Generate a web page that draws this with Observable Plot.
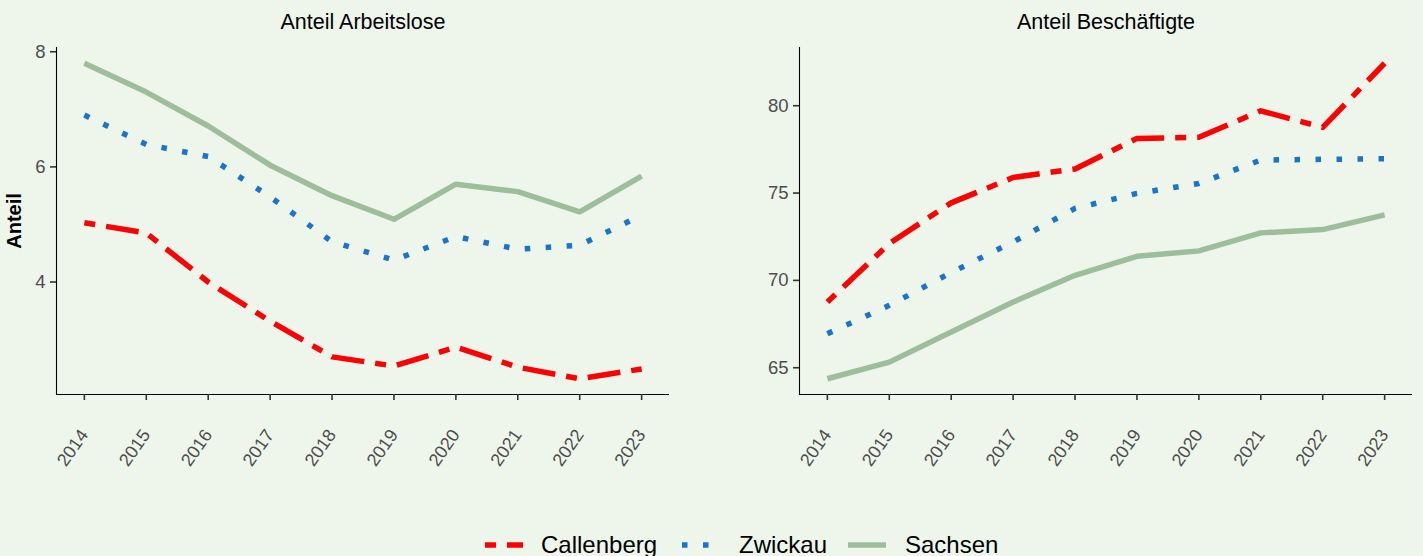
<!DOCTYPE html>
<html><head><meta charset="utf-8">
<script src="https://cdn.jsdelivr.net/npm/d3@7"></script>
<script src="https://cdn.jsdelivr.net/npm/@observablehq/plot@0.6"></script>
<style>
html,body{margin:0;padding:0;background:#EEF6EC;width:1423px;height:556px;overflow:hidden;font-family:"Liberation Sans",Arial,sans-serif;}
#wrap{position:relative;width:1423px;height:556px;}
.panel{position:absolute;top:0;}
.lkey{position:absolute;top:535px;}
.ltxt{position:absolute;top:533px;font-size:24px;line-height:24px;color:#000;white-space:nowrap;}
</style></head><body><div id="wrap"></div>
<script>
const years = [2014, 2015, 2016, 2017, 2018, 2019, 2020, 2021, 2022, 2023];
const seriesNames = ["Callenberg", "Zwickau", "Sachsen"];
const panelTitles = ["Anteil Arbeitslose", "Anteil Beschäftigte"];
const yAxisTitle = "Anteil";

// Anteil Arbeitslose
const aloCallenberg = [5.03, 4.85, 4.00, 3.32, 2.70, 2.54, 2.87, 2.52, 2.32, 2.49];
const aloZwickau    = [6.90, 6.39, 6.18, 5.48, 4.70, 4.38, 4.79, 4.57, 4.64, 5.16];
const aloSachsen    = [7.80, 7.30, 6.71, 6.03, 5.50, 5.09, 5.70, 5.57, 5.22, 5.84];
// Anteil Beschäftigte
const besCallenberg = [68.76, 72.11, 74.44, 75.89, 76.38, 78.13, 78.19, 79.71, 78.76, 82.43];
const besZwickau    = [66.95, 68.57, 70.45, 72.20, 74.12, 74.98, 75.55, 76.89, 76.93, 76.96];
const besSachsen    = [64.37, 65.32, 67.04, 68.76, 70.29, 71.38, 71.69, 72.72, 72.91, 73.75];

const yTicksAlo = [4, 6, 8];
const yTicksBes = [65, 70, 75, 80];

const styles = {
  Callenberg: {stroke: "#FF0000", strokeDasharray: "11,11,33,11"},
  Zwickau:    {stroke: "#1874CD", strokeDasharray: "5.5,15.5"},
  Sachsen:    {stroke: "#9CBE9A", strokeDasharray: null}
};
const LW = 5.5;
const FONT = '"Liberation Sans", Arial, sans-serif';

function makePanel({title, values, yticks, width, marginLeft, marginRight, ylabel}) {
  const all = values.flat();
  const [lo, hi] = d3.extent(all);
  const pad = (hi - lo) * 0.05;
  const x0 = d3.min(years), x1 = d3.max(years);
  const xp = (x1 - x0) * 0.05;
  const yDomain = [lo - pad, hi + pad];
  const xDomain = [x0 - xp, x1 + xp];
  const marks = [];
  const order = [2, 1, 0];
  for (const i of order) {
    const name = seriesNames[i];
    const data = years.map((yr, j) => ({year: yr, value: values[i][j]}));
    const st = styles[name];
    const opts = {x: "year", y: "value", stroke: st.stroke, strokeWidth: LW, strokeLinecap: "butt", strokeLinejoin: "round"};
    if (st.strokeDasharray) opts.strokeDasharray = st.strokeDasharray;
    marks.push(Plot.line(data, opts));
  }
  marks.push(
    Plot.ruleX([xDomain[0]], {stroke: "#000", strokeWidth: 1.1}),
    Plot.ruleY([yDomain[0]], {stroke: "#000", strokeWidth: 1.1}),
    Plot.axisY({ticks: yticks, tickFormat: d => String(d), tickSize: 6, tickPadding: 5, label: null, stroke: "#333", strokeWidth: 1.6, fill: "#4D4D4D", fontSize: 18.5}),
    Plot.axisX({ticks: years, tickSize: 6, tickFormat: () => "", label: null, stroke: "#333", strokeWidth: 1.6}),
    Plot.text(years, {x: d => d, text: d => String(d), frameAnchor: "bottom", dy: 37, rotate: -55, textAnchor: "end", lineAnchor: "middle", fill: "#4D4D4D", fontSize: 18}),
    Plot.text([title], {frameAnchor: "top", dy: -25, textAnchor: "middle", lineAnchor: "middle", fontSize: 21.5, fill: "#000"})
  );
  if (ylabel) {
    marks.push(Plot.text([ylabel], {frameAnchor: "left", dx: -42, rotate: -90, textAnchor: "middle", lineAnchor: "middle", fontSize: 20, fontWeight: "bold", fill: "#000"}));
  }
  return Plot.plot({
    width, height: 480,
    marginLeft, marginRight, marginTop: 47, marginBottom: 86,
    x: {domain: xDomain, axis: null},
    y: {domain: yDomain, axis: null},
    style: {background: "transparent", fontFamily: FONT, overflow: "visible"},
    marks
  });
}

const wrap = document.getElementById("wrap");
const p1 = makePanel({title: panelTitles[0], values: [aloCallenberg, aloZwickau, aloSachsen], yticks: yTicksAlo, width: 680, marginLeft: 56, marginRight: 11, ylabel: yAxisTitle});
p1.classList.add("panel"); p1.style.left = "0px";
wrap.appendChild(p1);
const p2 = makePanel({title: panelTitles[1], values: [besCallenberg, besZwickau, besSachsen], yticks: yTicksBes, width: 723, marginLeft: 99, marginRight: 11});
p2.classList.add("panel"); p2.style.left = "700px";
wrap.appendChild(p2);

// legend
const legendPos = [
  {key: 485, text: 541},
  {key: 682, text: 739},
  {key: 848, text: 905}
];
seriesNames.forEach((name, i) => {
  const st = styles[name];
  const ns = "http://www.w3.org/2000/svg";
  const svg = document.createElementNS(ns, "svg");
  svg.setAttribute("width", 38); svg.setAttribute("height", 20);
  svg.setAttribute("class", "lkey");
  svg.style.left = legendPos[i].key + "px";
  const ln = document.createElementNS(ns, "line");
  ln.setAttribute("x1", 0); ln.setAttribute("x2", 38); ln.setAttribute("y1", 10); ln.setAttribute("y2", 10);
  ln.setAttribute("stroke", st.stroke); ln.setAttribute("stroke-width", LW);
  if (st.strokeDasharray) ln.setAttribute("stroke-dasharray", st.strokeDasharray);
  svg.appendChild(ln);
  wrap.appendChild(svg);
  const t = document.createElement("div");
  t.className = "ltxt"; t.style.left = legendPos[i].text + "px"; t.textContent = name;
  wrap.appendChild(t);
});
</script></body></html>
